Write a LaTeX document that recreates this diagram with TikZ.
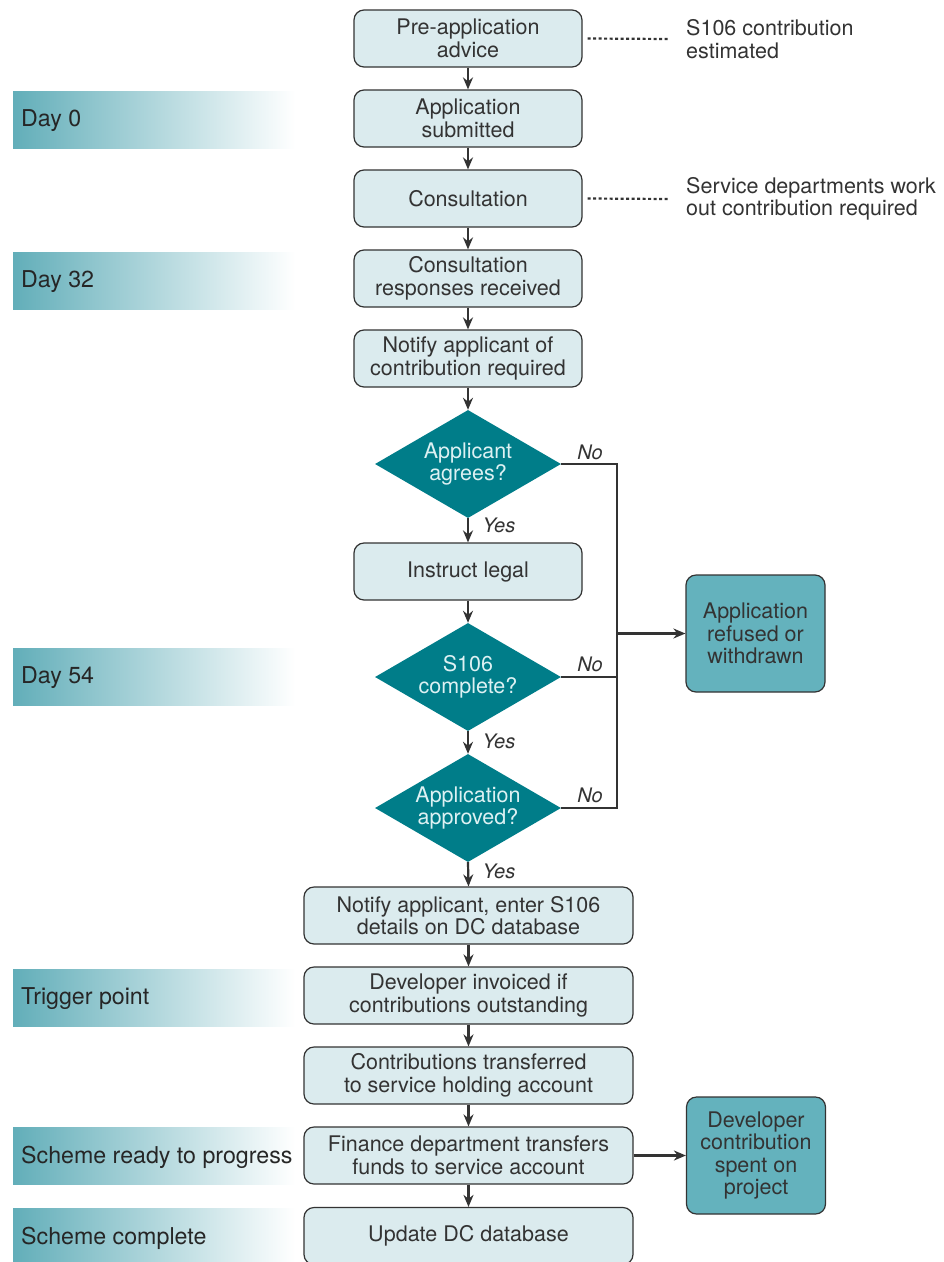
\documentclass[tikz,border=0pt]{standalone}
\usepackage{fontspec}
\setmainfont{TeX Gyre Heros}
\usetikzlibrary{shapes.geometric,arrows.meta}
\definecolor{boxfill}{HTML}{DBEBEE}
\definecolor{edge}{HTML}{333333}
\definecolor{txt}{HTML}{333333}
\definecolor{dia}{HTML}{007D89}
\definecolor{diatxt}{HTML}{DDF1F3}
\definecolor{endfill}{HTML}{64B2BD}
\definecolor{band}{HTML}{62AEB9}
\begin{document}
\begin{tikzpicture}[x=1pt,y=-1pt,
  every node/.style={font=\fontsize{21.5}{22.5}\selectfont, text=txt},
  stepbox/.style={draw=edge, line width=1.2pt, fill=boxfill, rounded corners=10pt, minimum height=57pt, align=center, inner sep=0pt},
  narrowbox/.style={stepbox, minimum width=228pt},
  widebox/.style={stepbox, minimum width=329pt},
  decide/.style={diamond, fill=dia, text=diatxt, minimum width=186pt, minimum height=108pt, aspect=1.72, inner sep=0pt, align=center},
  endbox/.style={draw=edge, line width=1.2pt, fill=endfill, rounded corners=10pt, minimum width=139pt, minimum height=117pt, align=center, inner sep=0pt},
  flow/.style={draw=edge, line width=2.2pt, -{Stealth[length=12pt,width=10pt]}},
  line/.style={draw=edge, line width=2.4pt},
  dots/.style={draw=edge, line width=2.2pt, dash pattern=on 3pt off 2.5pt},
  tag/.style={font=\fontsize{20}{22}\selectfont\itshape},
  note/.style={align=left, anchor=west},
  bandtext/.style={font=\fontsize{23.2}{24}\selectfont, text=black!85, anchor=west, inner sep=0pt}
]
\useasboundingbox (0,0) rectangle (944,1262);
\fill[white] (0,0) rectangle (944,1262);

% left bands
\foreach \y in {91, 252, 648, 969, 1127, 1208}{
  \shade[left color=band, right color=white] (13,\y) rectangle (295,\y+57);
}
\node[bandtext] (b0) at (21,121) {Day 0};
\node[bandtext] (b32) at (21,282) {Day 32};
\node[bandtext] (b54) at (21,678) {Day 54};
\node[bandtext] (btr) at (21,999) {Trigger point};
\node[bandtext] (bsr) at (21,1157) {Scheme ready to progress};
\node[bandtext] (bsc) at (21,1238) {Scheme complete};

% main flow
\node[narrowbox] (pre) at (468,38.5) {Pre-application\\advice};
\node[narrowbox] (sub) at (468,118.5) {Application\\submitted};
\node[narrowbox] (con) at (468,198.5) {Consultation};
\node[narrowbox] (resp) at (468,278.5) {Consultation\\responses received};
\node[narrowbox] (noti) at (468,358.5) {Notify applicant of\\contribution required};
\node[decide] (d1) at (468,464) {Applicant\\agrees?};
\node[narrowbox] (legal) at (468,571.5) {Instruct legal};
\node[decide] (d2) at (468,677) {S106\\complete?};
\node[decide] (d3) at (468,808) {Application\\approved?};
\node[widebox] (ent) at (468.5,915.5) {Notify applicant, enter S106\\details on DC database};
\node[widebox] (inv) at (468.5,995.5) {Developer invoiced if\\contributions outstanding};
\node[widebox] (trn) at (468.5,1075.5) {Contributions transferred\\to service holding account};
\node[widebox] (fin) at (468.5,1155.5) {Finance department transfers\\funds to service account};
\node[widebox] (upd) at (468.5,1236) {Update DC database};

\node[endbox] (ref) at (755.5,633.5) {Application\\refused or\\withdrawn};
\node[endbox] (spent) at (756,1155.5) {Developer\\contribution\\spent on\\project};

% notes
\node[note, inner sep=0pt] (n1) at (686,39) {S106 contribution\\estimated};
\node[note, inner sep=0pt] (n2) at (686,199) {Service departments work\\out contribution required};
\draw[dots] (pre.east) ++(5,0) -- (n1.west -| 670,0);
\draw[dots] (con.east) ++(5,0) -- (n2.west -| 670,0);

% arrows
\draw[flow] (pre) -- (sub);
\draw[flow] (sub) -- (con);
\draw[flow] (con) -- (resp);
\draw[flow] (resp) -- (noti);
\draw[flow] (noti) -- (d1);
\draw[flow] (d1) -- (legal);
\draw[flow] (legal) -- (d2);
\draw[flow] (d2) -- (d3);
\draw[flow] (d3.south) -- (ent.north);
\draw[flow] (ent) -- (inv);
\draw[flow] (inv) -- (trn);
\draw[flow] (trn) -- (fin);
\draw[flow] (fin) -- (upd);
\draw[flow] (fin) -- (spent);

\coordinate (bus) at (617,633.5);
\draw[line] (d1.east) -| (bus);
\draw[line] (d2.east) -- (d2.east -| bus);
\draw[line] (d3.east) -| (bus);
\draw[flow] (bus) -- (ref);

\node[tag] (no1) at (590,452) {No};
\node[tag] (no2) at (590,664) {No};
\node[tag] (no3) at (590,795) {No};
\node[tag] (y1) at (499,525) {Yes};
\node[tag] (y2) at (499,741) {Yes};
\node[tag] (y3) at (499,871) {Yes};
\end{tikzpicture}
\end{document}
